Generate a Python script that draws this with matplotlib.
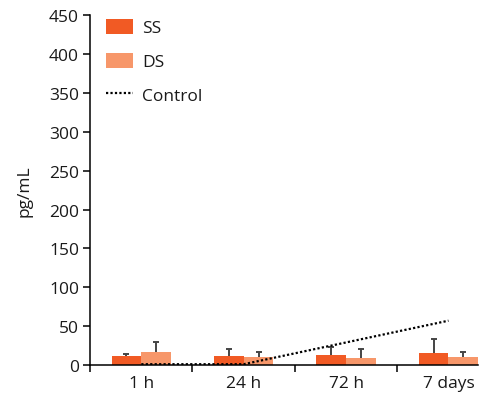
import matplotlib
matplotlib.use("Agg")
import matplotlib.pyplot as plt
import numpy as np

plt.rcParams['font.family'] = ['Open Sans', 'DejaVu Sans']

categories = ["1 h", "24 h", "72 h", "7 days"]
ss_values = [11, 12, 13, 16]
ss_errors = [3.5, 8.5, 10, 17]
ds_values = [17, 10, 9, 10]
ds_errors = [12, 7, 11.5, 7]
control_values = [1, 1, 29, 57]

ss_color = "#F15A24"
ds_color = "#F7976A"
err_color = "#444444"

fig = plt.figure(figsize=(4.95, 4.02), dpi=100)
ax = fig.add_axes([0.182, 0.0896, 0.784, 0.870])

x = np.arange(len(categories))
w = 0.29

h_ss = ax.bar(x - w / 2, ss_values, width=w, color=ss_color, label="SS", zorder=2)
h_ds = ax.bar(x + w / 2, ds_values, width=w, color=ds_color, label="DS", zorder=2)

# upper-only error bars with a cap at the top
for pos, vals, errs in [(x - w / 2, ss_values, ss_errors), (x + w / 2, ds_values, ds_errors)]:
    tops = np.array(vals) + np.array(errs)
    ax.vlines(pos, vals, tops, color=err_color, linewidth=1.4, zorder=3)
    ax.plot(pos, tops, linestyle="none", marker="_", markersize=5,
            markeredgewidth=1.4, color=err_color, zorder=3)

h_ctrl, = ax.plot(x, control_values, color="black", linestyle=(0, (1, 1)), linewidth=1.6,
                  label="Control", zorder=4)

ax.set_xlim(-0.5, 3 + w)
ax.set_ylim(0, 450)
ax.set_yticks(np.arange(0, 451, 50))
ax.set_xticks(np.arange(-0.5, 3, 1))
ax.set_xticklabels([])
ax.set_xticks(x, minor=True)
ax.set_xticklabels(categories, minor=True)
ax.tick_params(axis="x", which="minor", length=0, pad=7, labelsize=12.5, labelcolor="#1a1a1a")
ax.tick_params(axis="x", which="major", length=5, width=1.1, direction="out")
ax.tick_params(axis="y", length=5, width=1.1, direction="out", labelsize=12.5,
               pad=3, labelcolor="#1a1a1a")

for s in ["top", "right"]:
    ax.spines[s].set_visible(False)
for s in ["left", "bottom"]:
    ax.spines[s].set_linewidth(1.1)

ax.set_ylabel("pg/mL", fontsize=12.5, labelpad=12, color="#1a1a1a")

ax.legend(handles=[h_ss, h_ds, h_ctrl], loc="upper left", bbox_to_anchor=(0.0, 1.035),
          frameon=False, fontsize=12.5, handlelength=1.55, handleheight=0.95,
          labelspacing=0.95, handletextpad=0.55, labelcolor="#1a1a1a")

fig.savefig("out.png", dpi=100)
